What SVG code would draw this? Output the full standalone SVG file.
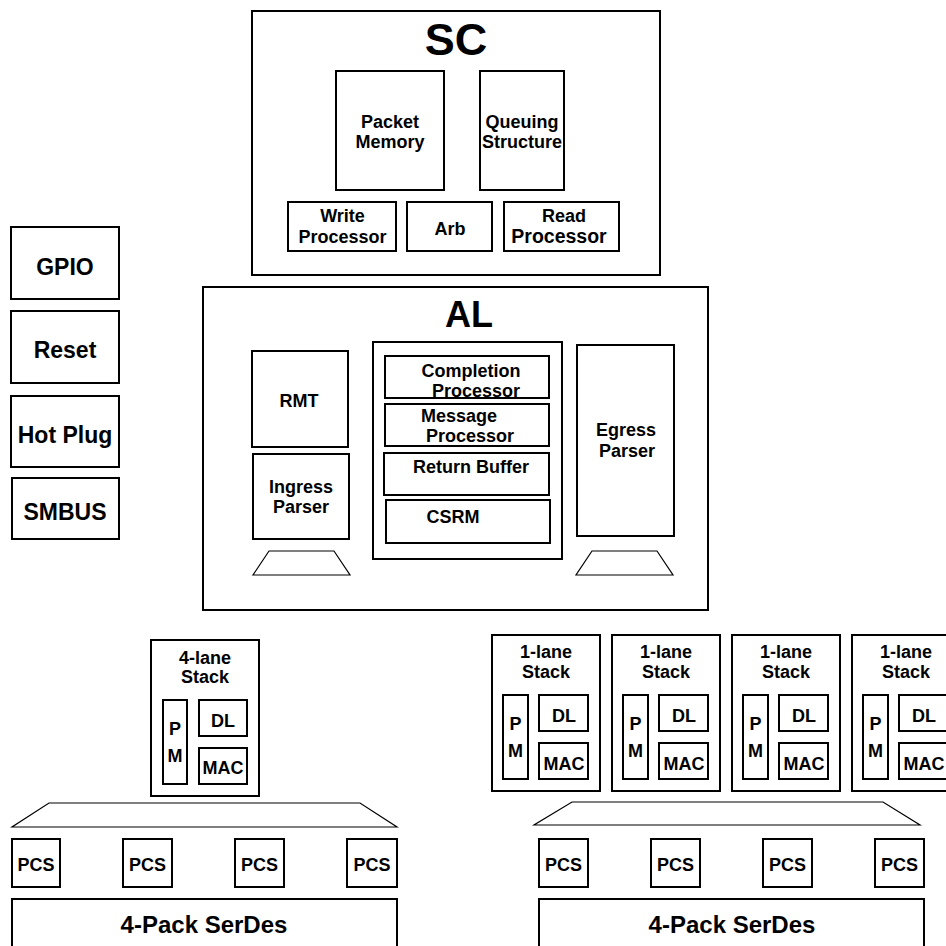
<svg xmlns="http://www.w3.org/2000/svg" width="946" height="946" viewBox="0 0 946 946">
<style>
.b{fill:#fff;stroke:#000;stroke-width:2}
.t{fill:none;stroke:#000;stroke-width:1.2}
text{font-family:"Liberation Sans",Arial,sans-serif;font-weight:bold;fill:#000;text-anchor:middle;font-size:18px}
.big{font-size:23px}
</style>
<rect x="0" y="0" width="946" height="946" fill="#fff"/>
<g id="SC">
<rect class="b" x="252" y="11" width="408" height="264"/>
<text x="456" y="55" style="font-size:45px">SC</text>
</g>
<g id="packet-memory"><rect class="b" x="336" y="71" width="108" height="119"/><text x="390" y="128">Packet</text><text x="390" y="148">Memory</text></g>
<g id="queuing-structure"><rect class="b" x="480" y="71" width="84" height="119"/><text x="522" y="128">Queuing</text><text x="522" y="148">Structure</text></g>
<g id="write-processor"><rect class="b" x="288" y="202" width="108" height="49"/><text x="342.5" y="222">Write</text><text x="342.5" y="243">Processor</text></g>
<g id="arb"><rect class="b" x="407" y="202" width="85" height="49"/><text x="450" y="235">Arb</text></g>
<g id="read-processor"><rect class="b" x="504" y="202" width="115" height="49"/><text x="564" y="222">Read</text><text x="559" y="243" style="font-size:19.5px">Processor</text></g>

<g id="AL"><rect class="b" x="203" y="287" width="505" height="323"/><text x="469" y="327" style="font-size:36px">AL</text></g>
<g id="rmt"><rect class="b" x="252" y="351" width="96" height="96"/><text x="299" y="407">RMT</text></g>
<g id="ingress-parser"><rect class="b" x="253" y="454" width="96" height="85"/><text x="301" y="493">Ingress</text><text x="301" y="513">Parser</text></g>
<g id="ingress-mux"><polygon class="t" points="253,575 350,575 334,551 269,551"/></g>
<g id="al-core"><rect class="b" x="373" y="342" width="189" height="217"/></g>
<g id="completion-processor"><rect class="b" x="385" y="356" width="164" height="42"/><text x="471" y="377">Completion</text><text x="476" y="397">Processor</text></g>
<g id="message-processor"><rect class="b" x="385" y="404" width="164" height="42"/><text x="459" y="422">Message</text><text x="470" y="442">Processor</text></g>
<g id="return-buffer"><rect class="b" x="384" y="453" width="165" height="42"/><text x="471" y="473">Return Buffer</text></g>
<g id="csrm"><rect class="b" x="386" y="500" width="164" height="43"/><text x="453" y="523">CSRM</text></g>
<g id="egress-parser"><rect class="b" x="577" y="345" width="97" height="191"/><text x="626" y="436">Egress</text><text x="627" y="457">Parser</text></g>
<g id="egress-mux"><polygon class="t" points="576,575 673,575 657,551 592,551"/></g>

<g id="gpio"><rect class="b" x="11" y="227" width="108" height="72"/><text class="big" x="65" y="275">GPIO</text></g>
<g id="reset"><rect class="b" x="11" y="311" width="108" height="72"/><text class="big" x="65" y="358">Reset</text></g>
<g id="hot-plug"><rect class="b" x="11" y="396" width="108" height="71"/><text class="big" x="65" y="443">Hot Plug</text></g>
<g id="smbus"><rect class="b" x="12" y="478" width="107" height="61"/><text class="big" x="65" y="520">SMBUS</text></g>

<g id="stack-4lane">
<rect class="b" x="151" y="640" width="108" height="156"/>
<text x="205" y="664">4-lane</text><text x="205" y="683">Stack</text>
<rect class="b" x="163" y="700" width="24" height="84"/><text x="175" y="735">P</text><text x="175" y="762">M</text>
<rect class="b" x="199" y="700" width="48" height="36"/><text x="223" y="727">DL</text>
<rect class="b" x="199" y="748" width="48" height="36"/><text x="223" y="774">MAC</text>
</g>
<g id="left-mux"><polygon class="t" points="12,827 397,827 360,803 49,803"/></g>
<g id="left-pcs-1"><rect class="b" x="12" y="839" width="48" height="48"/><text x="36" y="871">PCS</text></g>
<g id="left-pcs-2"><rect class="b" x="123" y="839" width="49" height="48"/><text x="147.5" y="871">PCS</text></g>
<g id="left-pcs-3"><rect class="b" x="235" y="839" width="49" height="48"/><text x="259.5" y="871">PCS</text></g>
<g id="left-pcs-4"><rect class="b" x="347" y="839" width="50" height="48"/><text x="372" y="871">PCS</text></g>
<g id="left-serdes"><rect class="b" x="12" y="899" width="385" height="70"/><text x="204" y="933" style="font-size:24px">4-Pack SerDes</text></g>

<g id="stack-1lane-1" transform="translate(492,0)">
<rect class="b" x="0" y="635" width="108" height="156"/>
<text x="54" y="658">1-lane</text><text x="54" y="678">Stack</text>
<rect class="b" x="11" y="695" width="25" height="84"/><text x="23.5" y="730">P</text><text x="23.5" y="757">M</text>
<rect class="b" x="47" y="695" width="49" height="36"/><text x="72" y="722">DL</text>
<rect class="b" x="47" y="743" width="49" height="36"/><text x="72" y="770">MAC</text>
</g>
<g id="stack-1lane-2" transform="translate(612,0)">
<rect class="b" x="0" y="635" width="108" height="156"/>
<text x="54" y="658">1-lane</text><text x="54" y="678">Stack</text>
<rect class="b" x="11" y="695" width="25" height="84"/><text x="23.5" y="730">P</text><text x="23.5" y="757">M</text>
<rect class="b" x="47" y="695" width="49" height="36"/><text x="72" y="722">DL</text>
<rect class="b" x="47" y="743" width="49" height="36"/><text x="72" y="770">MAC</text>
</g>
<g id="stack-1lane-3" transform="translate(732,0)">
<rect class="b" x="0" y="635" width="108" height="156"/>
<text x="54" y="658">1-lane</text><text x="54" y="678">Stack</text>
<rect class="b" x="11" y="695" width="25" height="84"/><text x="23.5" y="730">P</text><text x="23.5" y="757">M</text>
<rect class="b" x="47" y="695" width="49" height="36"/><text x="72" y="722">DL</text>
<rect class="b" x="47" y="743" width="49" height="36"/><text x="72" y="770">MAC</text>
</g>
<g id="stack-1lane-4" transform="translate(852,0)">
<rect class="b" x="0" y="635" width="108" height="156"/>
<text x="54" y="658">1-lane</text><text x="54" y="678">Stack</text>
<rect class="b" x="11" y="695" width="25" height="84"/><text x="23.5" y="730">P</text><text x="23.5" y="757">M</text>
<rect class="b" x="47" y="695" width="49" height="36"/><text x="72" y="722">DL</text>
<rect class="b" x="47" y="743" width="49" height="36"/><text x="72" y="770">MAC</text>
</g>
<g id="right-mux"><polygon class="t" points="534,825 920,825 883,802 572,802"/></g>
<g id="right-pcs-1"><rect class="b" x="539" y="839" width="49" height="48"/><text x="563.5" y="871">PCS</text></g>
<g id="right-pcs-2"><rect class="b" x="651" y="839" width="49" height="48"/><text x="675.5" y="871">PCS</text></g>
<g id="right-pcs-3"><rect class="b" x="763" y="839" width="49" height="48"/><text x="787.5" y="871">PCS</text></g>
<g id="right-pcs-4"><rect class="b" x="875" y="839" width="49" height="48"/><text x="899.5" y="871">PCS</text></g>
<g id="right-serdes"><rect class="b" x="539" y="899" width="385" height="70"/><text x="732" y="933" style="font-size:24px">4-Pack SerDes</text></g>
<g id="connectors"></g>
</svg>
